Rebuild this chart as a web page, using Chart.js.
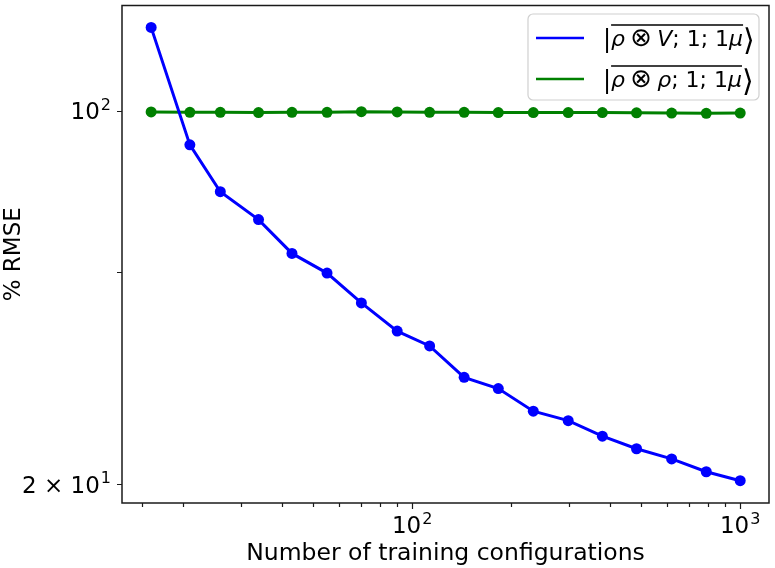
<!DOCTYPE html>
<html>
<head>
<meta charset="utf-8">
<script src="https://cdn.jsdelivr.net/npm/chart.js@4.4.0/dist/chart.umd.min.js"></script>
<style>
html, body { margin: 0; padding: 0; background: #fff; }
#wrap { width: 775px; height: 568px; }
</style>
</head>
<body>
<div id="wrap"><canvas id="rmseChart"></canvas></div>
<script>
// values
const trainingSizes = [16, 21, 26, 34, 43, 55, 70, 90, 113, 144, 183, 234, 299, 380, 483, 618, 788, 1000];
const rmseRhoV = [143.4, 86.4, 70.6, 62.6, 54.1, 49.7, 43.7, 38.7, 36.3, 31.7, 30.2, 27.4, 26.3, 24.6, 23.3, 22.3, 21.1, 20.3];
const rmseRhoRho = [99.6, 99.4, 99.4, 99.3, 99.4, 99.4, 99.7, 99.6, 99.4, 99.4, 99.3, 99.3, 99.3, 99.3, 99.2, 99.1, 99.0, 99.1];

const xTickValues = [15, 20, 30, 40, 50, 60, 70, 80, 90, 100, 200, 300, 400, 500, 600, 700, 800, 900, 1000];
const xMajorTicks = [100, 1000];
const yTickValues = [20, 50, 100];
// tick labels as [mantissa text, exponent]
const xTickLabels = { 100: ['10', '2'], 1000: ['10', '3'] };
const yTickLabels = { 20: ['2 × 10', '1'], 100: ['10', '2'] };

// legend text pieces: [text, italic, size]
const legendRhoV = [['|', false, 24], ['ρ', true, 22], ['\u2009⊗\u2009', false, 26], ['V', true, 22], ['; 1; 1', false, 22], ['μ', true, 22], ['⟩', false, 30]];
const legendRhoRho = [['|', false, 24], ['ρ', true, 22], ['\u2009⊗\u2009', false, 26], ['ρ', true, 22], ['; 1; 1', false, 22], ['μ', true, 22], ['⟩', false, 30]];

const FONT = "'DejaVu Sans', 'Liberation Sans', sans-serif";

function drawPower(ctx, label, x, baseline, align) {
    const [mant, exp] = label;
    ctx.font = '23px ' + FONT;
    const wm = ctx.measureText(mant).width;
    ctx.font = '16px ' + FONT;
    const we = ctx.measureText(exp).width;
    const total = wm + we + 1;
    let left = x;
    if (align === 'center') left = x - total / 2;
    if (align === 'right') left = x - total;
    ctx.textAlign = 'left';
    ctx.textBaseline = 'alphabetic';
    ctx.font = '23px ' + FONT;
    ctx.fillText(mant, left, baseline);
    ctx.font = '16px ' + FONT;
    ctx.fillText(exp, left + wm + 1, baseline - 9.5);
}

const frameAndTicks = {
    id: 'frameAndTicks',
    afterDraw(chart) {
        const ctx = chart.ctx;
        const area = chart.chartArea;
        const x = chart.scales.x;
        const y = chart.scales.y;
        ctx.save();
        ctx.strokeStyle = '#1a1a1a';
        ctx.lineWidth = 1.5;
        ctx.strokeRect(area.left, area.top, area.right - area.left, area.bottom - area.top);

        ctx.lineWidth = 1.2;
        ctx.beginPath();
        xTickValues.forEach(v => {
            const px = Math.round(x.getPixelForValue(v)) + 0.5;
            const len = xMajorTicks.includes(v) ? 6 : 4;
            ctx.moveTo(px, area.bottom);
            ctx.lineTo(px, area.bottom + len);
        });
        yTickValues.forEach(v => {
            const py = Math.round(y.getPixelForValue(v)) + 0.5;
            ctx.moveTo(area.left, py);
            ctx.lineTo(area.left - 5, py);
        });
        ctx.stroke();

        ctx.fillStyle = '#000';
        Object.keys(xTickLabels).forEach(v => {
            drawPower(ctx, xTickLabels[v], x.getPixelForValue(Number(v)), area.bottom + 30, 'center');
        });
        Object.keys(yTickLabels).forEach(v => {
            drawPower(ctx, yTickLabels[v], area.left - 11, y.getPixelForValue(Number(v)) + 8.5, 'right');
        });
        ctx.restore();
    }
};

const mathLegend = {
    id: 'mathLegend',
    afterDraw(chart) {
        const ctx = chart.ctx;
        const rows = [legendRhoV, legendRhoRho];
        ctx.save();

        const bx = 528, by = 14, bw = 231, bh = 86, r = 5;
        ctx.beginPath();
        ctx.moveTo(bx + r, by);
        ctx.arcTo(bx + bw, by, bx + bw, by + bh, r);
        ctx.arcTo(bx + bw, by + bh, bx, by + bh, r);
        ctx.arcTo(bx, by + bh, bx, by, r);
        ctx.arcTo(bx, by, bx + bw, by, r);
        ctx.closePath();
        ctx.fillStyle = 'rgba(255,255,255,0.8)';
        ctx.fill();
        ctx.strokeStyle = '#d0d0d0';
        ctx.lineWidth = 1.2;
        ctx.stroke();

        rows.forEach((pieces, i) => {
            const rowY = 38 + i * 41;
            const ds = chart.data.datasets[i];
            ctx.strokeStyle = ds.borderColor;
            ctx.lineWidth = 2.5;
            ctx.beginPath();
            ctx.moveTo(536, rowY);
            ctx.lineTo(584, rowY);
            ctx.stroke();

            ctx.fillStyle = '#000';
            ctx.textBaseline = 'alphabetic';
            ctx.textAlign = 'left';
            let cx = 603;
            let barStart = 0, barEnd = 0;
            pieces.forEach(([txt, italic, size], k) => {
                ctx.font = (italic ? 'italic ' : '') + size + 'px ' + FONT;
                if (k === 1) barStart = cx;
                const dy = k === pieces.length - 1 ? 4 : (k === 0 ? 1 : 0);
                ctx.fillText(txt, cx, rowY + 8 + dy);
                cx += ctx.measureText(txt).width;
                if (k === pieces.length - 2) barEnd = cx;
            });
            ctx.strokeStyle = '#000';
            ctx.lineWidth = 1.3;
            ctx.beginPath();
            ctx.moveTo(barStart, rowY - 13);
            ctx.lineTo(barEnd, rowY - 13);
            ctx.stroke();
        });
        ctx.restore();
    }
};

new Chart(document.getElementById('rmseChart'), {
    type: 'line',
    data: {
        datasets: [{
            label: 'rho V',
            data: trainingSizes.map((n, i) => ({ x: n, y: rmseRhoV[i] })),
            borderColor: '#0000ff',
            backgroundColor: '#0000ff',
            borderWidth: 3,
            pointRadius: 5.5,
            pointHoverRadius: 5.5,
            pointBorderWidth: 0,
            tension: 0
        }, {
            label: 'rho rho',
            data: trainingSizes.map((n, i) => ({ x: n, y: rmseRhoRho[i] })),
            borderColor: '#008000',
            backgroundColor: '#008000',
            borderWidth: 3,
            pointRadius: 5.5,
            pointHoverRadius: 5.5,
            pointBorderWidth: 0,
            tension: 0
        }]
    },
    options: {
        responsive: true,
        maintainAspectRatio: false,
        animation: false,
        layout: { padding: { top: 3, right: 6, left: 0, bottom: 0 } },
        plugins: {
            legend: { display: false },
            tooltip: { enabled: false }
        },
        scales: {
            x: {
                type: 'logarithmic',
                min: 13.04,
                max: 1224,
                grid: { display: false },
                border: { display: false },
                afterBuildTicks: scale => { scale.ticks = xTickValues.map(v => ({ value: v })); },
                afterFit: scale => {
                    scale.height = 65;
                    scale.paddingLeft = 0;
                    scale.paddingRight = 0;
                },
                ticks: { display: false },
                title: {
                    display: true,
                    text: 'Number of training configurations',
                    color: '#000',
                    font: { family: FONT, size: 23.5 },
                    padding: { top: 0, bottom: 0 }
                }
            },
            y: {
                type: 'logarithmic',
                min: 18.44,
                max: 157.6,
                grid: { display: false },
                border: { display: false },
                afterBuildTicks: scale => { scale.ticks = yTickValues.map(v => ({ value: v })); },
                afterFit: scale => {
                    scale.width = 122;
                    scale.paddingTop = 0;
                    scale.paddingBottom = 0;
                },
                ticks: { display: false },
                title: {
                    display: true,
                    text: '% RMSE',
                    color: '#000',
                    font: { family: FONT, size: 23 },
                    padding: 0
                }
            }
        }
    },
    plugins: [frameAndTicks, mathLegend]
});
</script>
</body>
</html>
